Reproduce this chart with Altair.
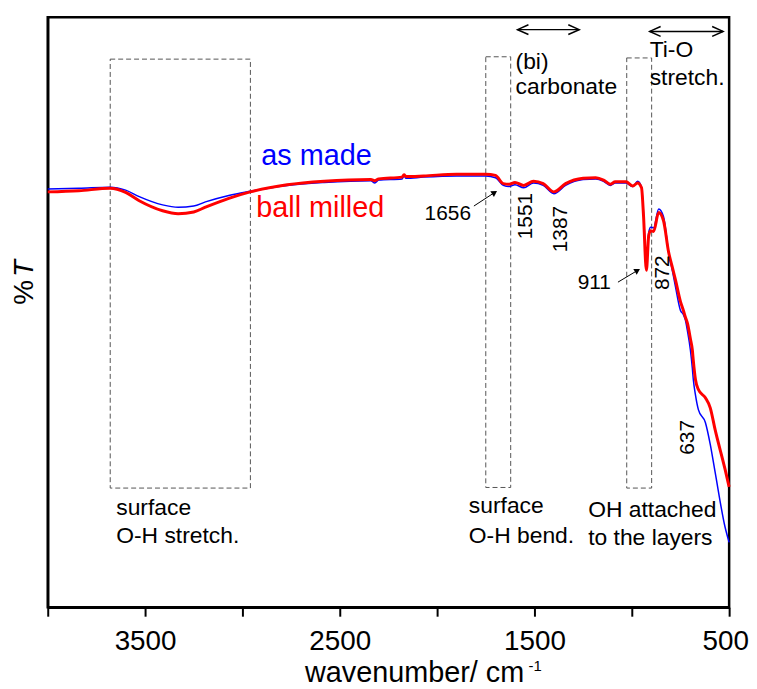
import altair as alt
import pandas as pd

# ---- spectra ----
wavenumber = [4000, 3840, 3680, 3600, 3530, 3410, 3330, 3250, 3190, 3070,
              2960, 2770, 2580, 2340, 2320, 2300, 2180, 2170, 2160, 2070,
              1900, 1750, 1700, 1660, 1630, 1600, 1555, 1505, 1455, 1400,
              1340, 1250, 1185, 1145, 1110, 1085, 1030, 995, 970, 950,
              940, 925, 913, 903, 888, 862, 837, 811, 790, 775,
              750, 735, 725, 714, 699, 689, 684, 673, 658, 622,
              597, 572, 521, 500]
as_made = [70.9, 71.0, 71.2, 70.7, 69.6, 68.2, 67.8, 68.0, 68.7, 69.8,
           70.5, 71.5, 72.0, 72.3, 71.9, 72.4, 72.6, 73.1, 72.7, 72.9,
           73.1, 73.1, 72.8, 71.5, 71.3, 71.6, 71.1, 71.9, 71.5, 70.1,
           71.5, 72.5, 72.6, 72.2, 71.5, 71.9, 71.9, 71.3, 72.2, 71.2,
           67.0, 58.0, 63.5, 64.4, 64.3, 67.5, 66.2, 60.2, 56.8, 54.2,
           50.3, 49.6, 48.7, 46.8, 43.6, 40.5, 38.6, 36.0, 33.5, 31.3,
           27.6, 22.9, 13.6, 11.0]
ball_milled = [70.4, 70.6, 71.0, 70.3, 68.9, 67.2, 66.7, 67.0, 67.8, 69.3,
               70.4, 71.6, 72.2, 72.5, 72.3, 72.6, 72.9, 73.3, 73.0, 73.1,
               73.4, 73.4, 73.2, 71.8, 71.7, 72.0, 71.5, 72.2, 71.8, 70.4,
               71.8, 72.7, 72.8, 72.4, 71.7, 72.1, 72.1, 71.4, 71.9, 71.1,
               66.5, 57.1, 63.0, 63.8, 63.7, 66.9, 65.5, 60.2, 57.4, 55.4,
               51.8, 50.3, 49.2, 48.1, 45.5, 43.6, 41.8, 38.6, 36.9, 35.5,
               33.8, 30.1, 23.4, 20.4]

x_ticks = [4000, 3500, 3000, 2500, 2000, 1500, 1000, 500]

# ---- annotation boxes (dashed) ----
box_x = [3679, 1750, 1026]
box_x2 = [2959, 1622, 898]
box_y = [20.2, 20.3, 20.2]
box_y2 = [92.9, 93.3, 93.1]

# ---- band labels ----
band_text = ["surface", "O-H stretch.", "surface", "O-H bend.", "OH attached",
             "to the layers", "(bi)", "carbonate", "Ti-O", "stretch."]
band_wn = [3648, 3648, 1837, 1837, 1224, 1224, 1597, 1597, 908, 908]
band_t = [16.8, 12.1, 17.2, 12.1, 16.5, 11.8, 92.4, 88.2, 94.5, 89.7]

# ---- peak labels ----
peak_rot_text = ["1551", "1387", "872", "637"]
peak_rot_wn = [1541, 1362, 842, 709]
peak_rot_t = [66.3, 64.1, 56.7, 28.8]
peak_text = ["1656", "911"]
peak_wn = [1826, 1107]
peak_t = [66.7, 54.9]

# ---- small arrows to peaks ----
arr_wn = [1811, 1071]
arr_t = [68.0, 55.1]
arr_wn2 = [1709, 975]
arr_t2 = [70.2, 57.0]
arr_angle = [57, 59]

# ---- range arrows at the top ----
rng_wn = [1587, 908]
rng_wn2 = [1270, 531]
rng_t = [97.9, 97.6]

FONT = "Liberation Sans"

df_blue = pd.DataFrame({"wn": wavenumber, "t": as_made})
df_red = pd.DataFrame({"wn": wavenumber, "t": ball_milled})

xs = alt.Scale(domain=[500, 4000], reverse=True, nice=False, zero=False)
ys = alt.Scale(domain=[0, 100], nice=False, zero=False)

x_axis = alt.Axis(values=x_ticks, title=None, grid=False,
                  labelExpr="datum.value % 1000 == 500 ? format(datum.value, 'd') : ''",
                  labelOffset={"expr": "datum.value == 500 ? -4 : 0"},
                  tickSize=9, tickWidth=2, tickColor="black",
                  domainColor="black", domainWidth=2.5,
                  labelFont=FONT, labelFontSize=28, labelColor="black",
                  labelPadding=12, labelFlush=False)
y_axis = alt.Axis(title=None, labels=False, ticks=False, grid=False,
                  domainColor="black", domainWidth=2.5)

X = alt.X("wn:Q", scale=xs, axis=x_axis)
Y = alt.Y("t:Q", scale=ys, axis=y_axis)

blue = alt.Chart(df_blue).mark_line(color="#0000FF", strokeWidth=1.5,
                                    interpolate="monotone").encode(x=X, y=Y)
red = alt.Chart(df_red).mark_line(color="#FF0000", strokeWidth=3,
                                  interpolate="monotone").encode(x=X, y=Y)

df_box = pd.DataFrame({"wn": box_x, "wn2": box_x2, "t": box_y, "t2": box_y2})
boxes = alt.Chart(df_box).mark_rect(fill=None, fillOpacity=0, stroke="#555555",
                                    strokeWidth=1, strokeDash=[5, 3]).encode(
    x="wn:Q", x2="wn2:Q", y="t:Q", y2="t2:Q")

df_band = pd.DataFrame({"wn": band_wn, "t": band_t, "label": band_text})
bands = alt.Chart(df_band).mark_text(font=FONT, fontSize=23, align="left",
                                     baseline="middle", color="black").encode(
    x="wn:Q", y="t:Q", text="label:N")

df_pr = pd.DataFrame({"wn": peak_rot_wn, "t": peak_rot_t, "label": peak_rot_text})
peaks_rot = alt.Chart(df_pr).mark_text(font=FONT, fontSize=21, align="center",
                                       baseline="middle", angle=270,
                                       color="black").encode(
    x="wn:Q", y="t:Q", text="label:N")

df_p = pd.DataFrame({"wn": peak_wn, "t": peak_t, "label": peak_text})
peaks = alt.Chart(df_p).mark_text(font=FONT, fontSize=21, align="right",
                                  baseline="middle", color="black").encode(
    x="wn:Q", y="t:Q", text="label:N")

df_arr = pd.DataFrame({"wn": arr_wn, "t": arr_t, "wn2": arr_wn2, "t2": arr_t2,
                       "ang": arr_angle})
arr_lines = alt.Chart(df_arr).mark_rule(color="black", strokeWidth=1).encode(
    x="wn:Q", y="t:Q", x2="wn2:Q", y2="t2:Q")
arr_heads = alt.Chart(df_arr).mark_point(shape="triangle", filled=True,
                                         color="black", size=45, opacity=1).encode(
    x="wn2:Q", y="t2:Q", angle=alt.Angle("ang:Q", scale=None))

df_rng = pd.DataFrame({"wn": rng_wn, "wn2": rng_wn2, "t": rng_t})
rng_lines = alt.Chart(df_rng).mark_rule(color="black", strokeWidth=1.5).encode(
    x="wn:Q", x2="wn2:Q", y="t:Q")
rng_left = alt.Chart(df_rng).mark_point(shape="M1,-0.45L0,0L1,0.45", filled=False,
                                        color="black", size=484, strokeWidth=1.5,
                                        opacity=1).encode(x="wn:Q", y="t:Q")
rng_right = alt.Chart(df_rng).mark_point(shape="M-1,-0.45L0,0L-1,0.45", filled=False,
                                         color="black", size=484, strokeWidth=1.5,
                                         opacity=1).encode(x="wn2:Q", y="t:Q")

df_leg = pd.DataFrame({"wn": [2903, 2929], "t": [76.4, 67.7],
                       "label": ["as made", "ball milled"]})
legend_txt = alt.Chart(df_leg).mark_text(font=FONT, fontSize=29, align="left",
                                         baseline="middle").encode(
    x="wn:Q", y="t:Q", text="label:N",
    color=alt.Color("label:N", scale=alt.Scale(domain=["as made", "ball milled"],
                                               range=["#0000FF", "#FF0000"]),
                    legend=None))

# axis titles as text (for italic T and superscript)
title_df = pd.DataFrame({"a": [0]})
xt = alt.Chart(title_df).mark_text(text="wavenumber/ cm", font=FONT, fontSize=29,
                                   align="left", baseline="alphabetic",
                                   color="black").encode(x=alt.value(259), y=alt.value(669))
xt_sup = alt.Chart(title_df).mark_text(text="-1", font=FONT, fontSize=15,
                                       align="left", baseline="alphabetic",
                                       color="black").encode(x=alt.value(484), y=alt.value(658))
yt1 = alt.Chart(title_df).mark_text(text="%", font=FONT, fontSize=28, align="center",
                                    baseline="middle", angle=270,
                                    color="black").encode(x=alt.value(-23), y=alt.value(277))
yt2 = alt.Chart(title_df).mark_text(text="T", font=FONT, fontSize=28, align="center",
                                    baseline="middle", angle=270, fontStyle="italic",
                                    color="black").encode(x=alt.value(-23), y=alt.value(253))

chart = alt.layer(
    boxes, blue, red, bands, peaks_rot, peaks, arr_lines, arr_heads,
    rng_lines, rng_left, rng_right, legend_txt, xt, xt_sup, yt1, yt2
).properties(
    width=686, height=594,
    autosize=alt.AutoSizeParams(type="none"),
    padding={"left": 40, "top": 7, "right": 20, "bottom": 80},
    background="white"
).configure_view(stroke="black", strokeWidth=2.5)

chart.save("out.html", embed_options={"renderer": "svg", "actions": False})
